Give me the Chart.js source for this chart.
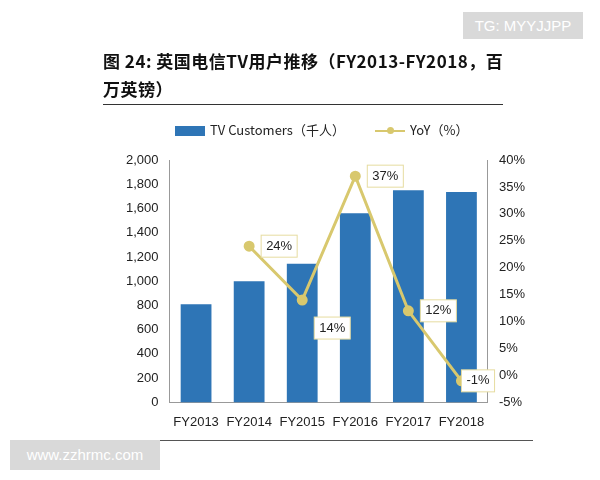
<!DOCTYPE html>
<html><head><meta charset="utf-8">
<script src="https://cdn.jsdelivr.net/npm/chart.js@4"></script>
<style>
body{margin:0;width:600px;height:480px;background:#fff;position:relative;font-family:"Liberation Sans",Arial,sans-serif;overflow:hidden}
#c{position:absolute;left:0;top:0}
.t{position:absolute;left:103px;font-family:"Noto Sans CJK SC";font-weight:bold;font-size:17px;color:#111;letter-spacing:0.5px}
.tg{position:absolute;left:463px;top:12px;width:120px;height:27px;background:#d9d9d9;color:#fff;font-size:15px;line-height:27px;text-align:center}
.ww{position:absolute;left:10px;top:440px;width:150px;height:30px;background:#d9d9d9;color:#fff;font-size:15px;line-height:30px;text-align:center}
.lg{position:absolute;top:120px;font-size:13px;color:#222;font-family:"Noto Sans CJK SC"}
</style></head><body>
<canvas id="c" width="600" height="480"></canvas>
<div class="tg">TG: MYYJJPP</div>
<div class="t" style="top:48px">图 24:  英国电信TV用户推移（FY2013-FY2018，百</div>
<div class="t" style="top:76px">万英镑）</div>
<div style="position:absolute;left:103px;top:104px;width:400px;border-top:1px solid #333"></div>
<div class="lg" style="left:175px"><span style="display:inline-block;width:30px;height:10px;background:#2e75b6;vertical-align:middle;margin-right:5px"></span>TV Customers（千人）</div>
<div class="lg" style="left:375px"><span style="display:inline-block;width:30px;height:2px;background:#d8c86e;vertical-align:middle;position:relative;margin-right:5px"><span style="position:absolute;left:12px;top:-3px;width:7px;height:7px;border-radius:50%;background:#d8c86e"></span></span>YoY（%）</div>
<div style="position:absolute;left:103px;top:440px;width:430px;border-top:1px solid #555"></div>
<div class="ww">www.zzhrmc.com</div>
<script>
const categories=["FY2013","FY2014","FY2015","FY2016","FY2017","FY2018"];
const customers=[810,1000,1145,1560,1750,1735];
const yoy=[null,24,14,37,12,-1];
const yoyLabels=[null,"24%","14%","37%","12%","-1%"];
const labelPlugin={id:'lbl',afterDatasetsDraw(ch){
 const ctx=ch.ctx;const meta=ch.getDatasetMeta(0);
 ctx.save();ctx.font='13px "Liberation Sans",Arial';ctx.textBaseline='middle';
 meta.data.forEach((p,i)=>{if(yoy[i]==null)return;const t=yoyLabels[i];
  const w=ctx.measureText(t).width+10,h=22,x=p.x+(i==5?0:12),y=p.y+(i==2?28:0);
  ctx.fillStyle='#fff';ctx.fillRect(x,y-h/2,w,h);ctx.strokeStyle='#e6dca0';ctx.strokeRect(x,y-h/2,w,h);
  ctx.fillStyle='#222';ctx.fillText(t,x+5,y);});
 ctx.restore();}};
new Chart(document.getElementById('c'),{
 data:{labels:categories,datasets:[
  {type:'line',data:yoy,yAxisID:'y1',borderColor:'#d8c86e',backgroundColor:'#d8c86e',borderWidth:3,pointRadius:4,spanGaps:false,order:0},
  {type:'bar',data:customers,yAxisID:'y',backgroundColor:'#2e75b6',categoryPercentage:0.58,barPercentage:1,order:1}]},
 options:{responsive:false,animation:false,layout:{padding:{left:123,right:72,top:160,bottom:46}},
  plugins:{legend:{display:false},tooltip:{enabled:false}},
  scales:{
   x:{grid:{display:false},border:{color:'#999'},ticks:{color:'#222',font:{size:13},padding:4,maxRotation:0,autoSkip:false}},
   y:{min:0,max:2000,grid:{display:false},border:{color:'#999'},ticks:{stepSize:200,color:'#222',font:{size:13},callback:v=>v.toLocaleString('en-US')}},
   y1:{position:'right',min:-5,max:40,grid:{display:false},border:{color:'#999'},ticks:{stepSize:5,color:'#222',font:{size:13},callback:v=>v+'%'}}
  }},
 plugins:[labelPlugin]});
</script></body></html>
